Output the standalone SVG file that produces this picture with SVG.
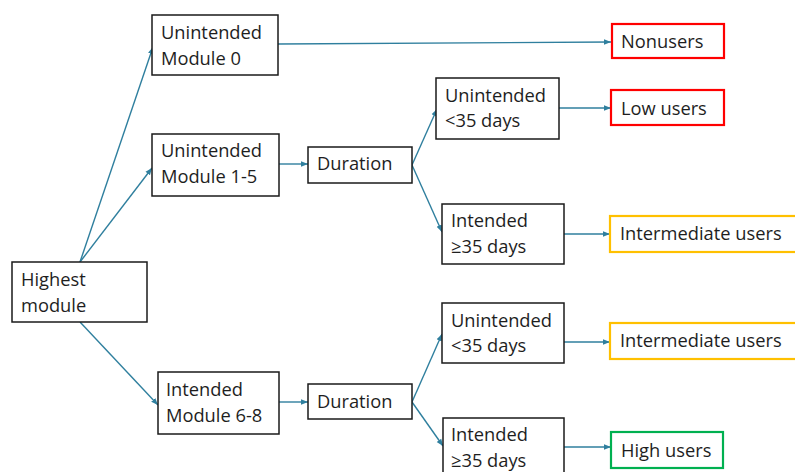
<svg xmlns="http://www.w3.org/2000/svg" width="795" height="472" viewBox="0 0 795 472">
<defs>
<marker id="ah" viewBox="0 0 10 10" refX="10" refY="5" markerWidth="7" markerHeight="7" markerUnits="userSpaceOnUse" orient="auto">
<path d="M0,1 L10,5 L0,9 z" fill="#2f7f9e"/>
</marker>
</defs>
<style>
rect.box{fill:#fff;stroke:#1a1a1a;stroke-width:1.5}
rect.red{stroke:#ff0000;stroke-width:2.2}
rect.org{stroke:#ffc000;stroke-width:2.2}
rect.grn{stroke:#00b050;stroke-width:2.2}
text{font-family:"Open Sans","Liberation Sans",sans-serif;font-size:18.3px;fill:#1e1e1e}
#connectors path{fill:none;stroke:#2f7f9e;stroke-width:1.4;marker-end:url(#ah)}
</style>
<rect width="795" height="472" fill="#fff"/>
<g id="connectors">
<path d="M80,262 L153,47"/>
<path d="M80,262 L152,168"/>
<path d="M80,322 L158,405"/>
<path d="M278,44 L611,42"/>
<path d="M279,164 L308,164"/>
<path d="M412,165 L437,109"/>
<path d="M412,165 L442,232"/>
<path d="M559,108 L611,108"/>
<path d="M564,234 L610,234"/>
<path d="M279,402 L308,402"/>
<path d="M412,402 L442,334"/>
<path d="M412,402 L443,446"/>
<path d="M564,342 L610,342"/>
<path d="M564,447 L611,447"/>
</g>
<g id="highest"><rect class="box" x="12" y="262" width="135" height="60"/><text x="21" y="286">Highest</text><text x="21" y="312">module</text></g>
<g id="mod0"><rect class="box" x="152" y="15" width="126" height="60"/><text x="161" y="39">Unintended</text><text x="161" y="65">Module 0</text></g>
<g id="mod15"><rect class="box" x="152" y="134" width="127" height="62"/><text x="161" y="157">Unintended</text><text x="161" y="183">Module 1-5</text></g>
<g id="mod68"><rect class="box" x="158" y="372" width="121" height="62"/><text x="166" y="396">Intended</text><text x="166" y="422">Module 6-8</text></g>
<g id="dur1"><rect class="box" x="308" y="147" width="104" height="36"/><text x="317" y="170">Duration</text></g>
<g id="dur2"><rect class="box" x="308" y="384" width="104" height="35"/><text x="317" y="408">Duration</text></g>
<g id="un1"><rect class="box" x="436" y="78" width="123" height="61"/><text x="445" y="102">Unintended</text><text x="445" y="127">&lt;35 days</text></g>
<g id="in1"><rect class="box" x="442" y="204" width="122" height="60"/><text x="451" y="227">Intended</text><text x="451" y="253">≥35 days</text></g>
<g id="un2"><rect class="box" x="442" y="303" width="122" height="60"/><text x="451" y="327">Unintended</text><text x="451" y="352">&lt;35 days</text></g>
<g id="in2"><rect class="box" x="443" y="418" width="121" height="60"/><text x="451" y="441">Intended</text><text x="451" y="467">≥35 days</text></g>
<g id="nonusers"><rect class="box red" x="612" y="24" width="112" height="34"/><text x="621" y="48">Nonusers</text></g>
<g id="low"><rect class="box red" x="611" y="90" width="113" height="35"/><text x="621" y="115">Low users</text></g>
<g id="inter1"><rect class="box org" x="610" y="216" width="200" height="36"/><text x="620" y="240">Intermediate users</text></g>
<g id="inter2"><rect class="box org" x="610" y="323" width="200" height="36"/><text x="620" y="347">Intermediate users</text></g>
<g id="high"><rect class="box grn" x="611" y="432" width="112" height="36"/><text x="621" y="457">High users</text></g>
</svg>
